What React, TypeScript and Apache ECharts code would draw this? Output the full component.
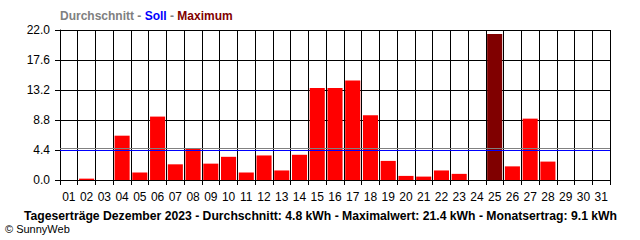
import React, { useEffect, useRef } from "react";
import * as echarts from "echarts";

const days = ["01","02","03","04","05","06","07","08","09","10","11","12","13","14","15","16","17","18","19","20","21","22","23","24","25","26","27","28","29","30","31"];
const yields = [0, 0.2, 0, 6.5, 1.1, 9.3, 2.3, 4.6, 2.4, 3.4, 1.1, 3.6, 1.4, 3.7, 13.5, 13.5, 14.6, 9.5, 2.8, 0.6, 0.5, 1.4, 0.9, 0, 21.4, 2.0, 9.0, 2.7, 0, 0, 0];
const averageValue = 4.7;
const targetValue = 4.4;
const yTicks = { min: 0, max: 22, interval: 4.4 };
const legendParts = ["Durchschnitt", "Soll", "Maximum"];
const footerText = "Tageserträge Dezember 2023 - Durchschnitt: 4.8 kWh - Maximalwert: 21.4 kWh - Monatsertrag: 9.1 kWh";
const creditText = "© SunnyWeb";

export default function App() {
  const ref = useRef<HTMLDivElement>(null);
  useEffect(() => {
    if (!ref.current) return;
    const chart = echarts.init(ref.current, undefined, { renderer: "svg" });
    const maxVal = Math.max(...yields);
    const font = "Liberation Sans, Arial, sans-serif";
    chart.setOption({
      animation: false,
      backgroundColor: "#ffffff",
      grid: { left: 60, top: 30, width: 550, height: 150, containLabel: false },
      xAxis: {
        type: "category",
        data: days,
        boundaryGap: true,
        axisLine: { show: true, lineStyle: { color: "#000", width: 1 } },
        axisTick: { show: true, interval: 0, length: 5, lineStyle: { color: "#000" } },
        axisLabel: { interval: 0, margin: 11, color: "#000", fontSize: 12, fontFamily: font },
        splitLine: { show: true, interval: 0, lineStyle: { color: "#000", width: 1 } },
      },
      yAxis: {
        type: "value",
        min: yTicks.min,
        max: yTicks.max,
        interval: yTicks.interval,
        axisLine: { show: true, lineStyle: { color: "#000" } },
        axisTick: { show: true, length: 5, lineStyle: { color: "#000" } },
        axisLabel: { margin: 10, color: "#000", fontSize: 12, fontFamily: font, formatter: (v: number) => v.toFixed(1) },
        splitLine: { show: true, lineStyle: { color: "#000", width: 1 } },
      },
      series: [
        {
          type: "bar",
          data: yields.map((v) => ({ value: v, itemStyle: { color: v === maxVal ? "#800000" : "#ff0000" } })),
          barCategoryGap: "15%",
          markLine: {
            symbol: "none",
            silent: true,
            label: { show: false },
            data: [
              { yAxis: averageValue, lineStyle: { color: "#808080", width: 1, type: "solid" } },
              { yAxis: targetValue, lineStyle: { color: "#0000ff", width: 1, type: "solid" } },
            ],
          },
        },
      ],
      graphic: [
        {
          type: "text",
          left: 60,
          top: 10,
          style: {
            text: `{a|${legendParts[0]}}{s| - }{b|${legendParts[1]}}{s| - }{c|${legendParts[2]}}`,
            rich: {
              a: { fill: "#808080", fontWeight: "bold", fontSize: 12, fontFamily: font },
              s: { fill: "#808080", fontWeight: "bold", fontSize: 12, fontFamily: font },
              b: { fill: "#0000ff", fontWeight: "bold", fontSize: 12, fontFamily: font },
              c: { fill: "#800000", fontWeight: "bold", fontSize: 12, fontFamily: font },
            },
          },
        },
        {
          type: "text",
          left: 24,
          top: 210,
          style: { text: footerText, fill: "#000", fontWeight: "bold", fontSize: 12.2, fontFamily: font },
        },
        {
          type: "text",
          left: 5,
          top: 223,
          style: { text: creditText, fill: "#000", fontSize: 11, fontFamily: font },
        },
      ],
    });
    return () => chart.dispose();
  }, []);
  return <div ref={ref} style={{ position: "fixed", left: 0, top: 0, width: 640, height: 240 }} />;
}
